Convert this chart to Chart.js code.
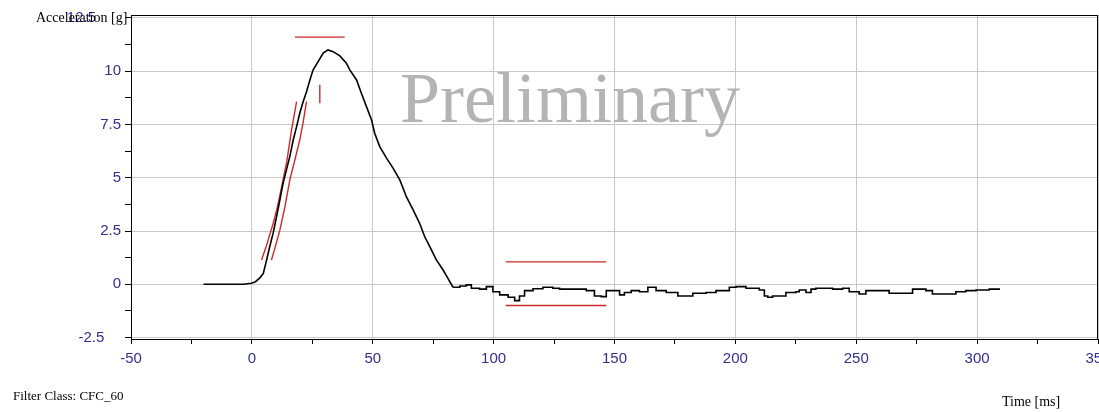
<!DOCTYPE html>
<html>
<head>
<meta charset="utf-8">
<title>Acceleration</title>
<script src="https://cdn.jsdelivr.net/npm/chart.js@4/dist/chart.umd.min.js"></script>
<style>
  html, body { margin: 0; padding: 0; background: #fff; }
  canvas { display: block; }
</style>
</head>
<body>
<canvas id="accChart" width="1099" height="412"></canvas>
<script>
// --- DATA ---
const xTicks = [-50, -25, 0, 25, 50, 75, 100, 125, 150, 175, 200, 225, 250, 275, 300, 325, 350];
const yTicks = [-2.5, -1.25, 0, 1.25, 2.5, 3.75, 5, 6.25, 7.5, 8.75, 10, 11.25, 12.5];

// measured acceleration: main pulse
const pulseTime = [-20, -3.5, -0.2, 1.5, 3.3, 4.7, 6.1, 7.4, 8.8, 10.2, 11.6, 12.9, 14.3, 15.7, 17.1, 18.5, 19.8,
  21.2, 22.6, 24, 25.3, 27.4, 29.5, 31.5, 33.6, 36.4, 39.1, 40.5, 43.3, 45.3, 47.4, 49.5, 50.8, 52.9,
  55.7, 58.4, 61.2, 63.9, 66.7, 69.4, 71.5, 73.6, 76.3, 79.1, 81.1, 83.2];
const pulseAccel = [0, 0, 0.05, 0.12, 0.3, 0.5, 1.14, 1.77, 2.4, 3.17, 3.96, 4.74, 5.37, 6.0, 6.77, 7.4, 8.03,
  8.57, 9.04, 9.59, 10.06, 10.45, 10.85, 11.0, 10.92, 10.72, 10.38, 10.06, 9.59, 8.97, 8.34, 7.71, 7.09, 6.46,
  5.92, 5.45, 4.9, 4.11, 3.49, 2.86, 2.23, 1.77, 1.14, 0.67, 0.28, -0.14];

// measured acceleration: stepped tail
const tailTime = [83.2, 86, 88.7, 90.8, 94.2, 97,
  99.7, 102.5, 106, 108.7, 110.7, 112.8, 116.3, 120.4, 124.5, 127.3, 138.3, 141.7, 144.5, 146.6,
  152.1, 154.1, 156.9, 160.3, 163.8, 167.2, 171.4, 176.2, 182.4, 187.9, 192, 197.5, 200.3, 204.4,
  209.9, 212, 213.4, 215.4, 220.9, 225.1, 226.4, 229.2, 231.3, 233.3, 240.2, 244.4, 247.1, 251.2,
  254, 263.6, 273.3, 278.8, 281.5, 291.2, 295.3, 299.5, 305, 309.1];
const tailAccel = [-0.14, -0.08, -0.03, -0.19, -0.23, -0.11,
  -0.35, -0.5, -0.61, -0.77, -0.55, -0.3, -0.21, -0.14, -0.19, -0.23, -0.3, -0.55, -0.58, -0.3,
  -0.5, -0.39, -0.3, -0.35, -0.14, -0.3, -0.39, -0.55, -0.42, -0.39, -0.3, -0.14, -0.11, -0.19,
  -0.27, -0.55, -0.61, -0.55, -0.39, -0.35, -0.27, -0.39, -0.23, -0.19, -0.23, -0.19, -0.35, -0.46,
  -0.3, -0.42, -0.23, -0.3, -0.46, -0.35, -0.3, -0.27, -0.23, -0.19];

// red corridor / limit marks
const leftEdgeX = [4.0, 6.0, 8.8, 10.5, 12.9, 14.5, 16.4, 18.5];
const leftEdgeY = [1.14, 1.8, 2.86, 3.6, 4.9, 5.8, 7.24, 8.57];
const rightEdgeX = [8.1, 9.8, 11.6, 13.6, 15.7, 17.7, 19.8, 21.2, 22.6];
const rightEdgeY = [1.14, 1.8, 2.55, 3.6, 4.9, 5.8, 6.77, 7.6, 8.57];
const peakBandX = [17.8, 38.4];
const peakBandY = [11.6, 11.6];
const peakMarkX = [28.1, 28.1];
const peakMarkY = [9.36, 8.5];
const tailBandX = [105, 146.6];
const tailUpperY = [1.05, 1.05];
const tailLowerY = [-1.0, -1.0];

const toPoints = (xs, ys) => xs.map((x, i) => ({ x: x, y: ys[i] }));

const RED = '#cc2a2a';
const LABEL_BLUE = '#30308c';
const GRID = '#c8c8c8';

function blackLine(xs, ys, stepped) {
  return {
    data: toPoints(xs, ys),
    borderColor: '#000',
    borderWidth: 1.6,
    pointRadius: 0,
    stepped: stepped,
    fill: false
  };
}

function redLine(xs, ys) {
  return {
    data: toPoints(xs, ys),
    borderColor: RED,
    borderWidth: 1.4,
    pointRadius: 0,
    fill: false
  };
}

// frame + free texts (axis captions, watermark)
const decorations = {
  id: 'decorations',
  beforeDatasetsDraw(chart) {
    const ctx = chart.ctx;
    ctx.save();
    ctx.fillStyle = '#b4b4b4';
    ctx.font = '72px "Liberation Serif", "Times New Roman", serif';
    ctx.textBaseline = 'alphabetic';
    ctx.fillText('Preliminary', 400, 122);
    ctx.restore();
  },
  afterDraw(chart) {
    const { ctx, chartArea } = chart;
    ctx.save();
    ctx.strokeStyle = '#000';
    ctx.lineWidth = 1;
    ctx.strokeRect(chartArea.left + 0.5, chartArea.top + 0.5,
      chartArea.right - chartArea.left - 1, chartArea.bottom - chartArea.top);
    ctx.fillStyle = '#000';
    ctx.textBaseline = 'middle';
    ctx.font = '14px "Liberation Serif", "Times New Roman", serif';
    ctx.fillText('Acceleration [g]', 36, 18);
    ctx.fillText('Time [ms]', 1002, 402);
    ctx.font = '13px "Liberation Serif", "Times New Roman", serif';
    ctx.fillText('Filter Class: CFC_60', 13, 397);
    ctx.restore();
  }
};

new Chart(document.getElementById('accChart'), {
  type: 'line',
  data: {
    datasets: [
      blackLine(pulseTime, pulseAccel, false),
      blackLine(tailTime, tailAccel, true),
      redLine(leftEdgeX, leftEdgeY),
      redLine(rightEdgeX, rightEdgeY),
      redLine(peakBandX, peakBandY),
      redLine(peakMarkX, peakMarkY),
      redLine(tailBandX, tailUpperY),
      redLine(tailBandX, tailLowerY)
    ]
  },
  options: {
    responsive: false,
    animation: false,
    layout: { padding: { top: 15, right: 1, left: 0, bottom: 0 } },
    plugins: {
      legend: { display: false },
      tooltip: { enabled: false }
    },
    scales: {
      x: {
        type: 'linear',
        min: -50,
        max: 350,
        afterBuildTicks: (scale) => { scale.ticks = xTicks.map(v => ({ value: v })); },
        afterFit: (scale) => {
          scale.height = 73;
          scale.paddingLeft = 0;
          scale.paddingRight = 0;
        },
        border: { color: '#000', width: 1 },
        grid: {
          color: (c) => (c.tick && c.tick.value % 50 === 0 ? GRID : 'rgba(0,0,0,0)'),
          tickColor: '#000',
          tickLength: 5
        },
        ticks: {
          autoSkip: false,
          maxRotation: 0,
          padding: 6,
          color: LABEL_BLUE,
          font: { family: '"Liberation Sans", Arial, sans-serif', size: 15 },
          callback: (v) => (v % 50 === 0 ? String(v) : '')
        }
      },
      y: {
        type: 'linear',
        min: -2.57,
        max: 12.64,
        afterBuildTicks: (scale) => { scale.ticks = yTicks.map(v => ({ value: v })); },
        afterFit: (scale) => {
          scale.width = 131;
          scale.paddingTop = 0;
          scale.paddingBottom = 0;
        },
        border: { color: '#000', width: 1 },
        grid: {
          color: (c) => (c.tick && c.tick.value % 2.5 === 0 ? GRID : 'rgba(0,0,0,0)'),
          tickColor: '#000',
          tickLength: 6
        },
        ticks: {
          autoSkip: false,
          padding: 4,
          color: LABEL_BLUE,
          font: { family: '"Liberation Sans", Arial, sans-serif', size: 15 },
          callback: (v) => {
            if (v % 2.5 !== 0) return '';
            if (v === 12.5) return '12.5      ';
            if (v === -2.5) return '-2.5    ';
            return String(v);
          }
        }
      }
    }
  },
  plugins: [decorations]
});
</script>
</body>
</html>
